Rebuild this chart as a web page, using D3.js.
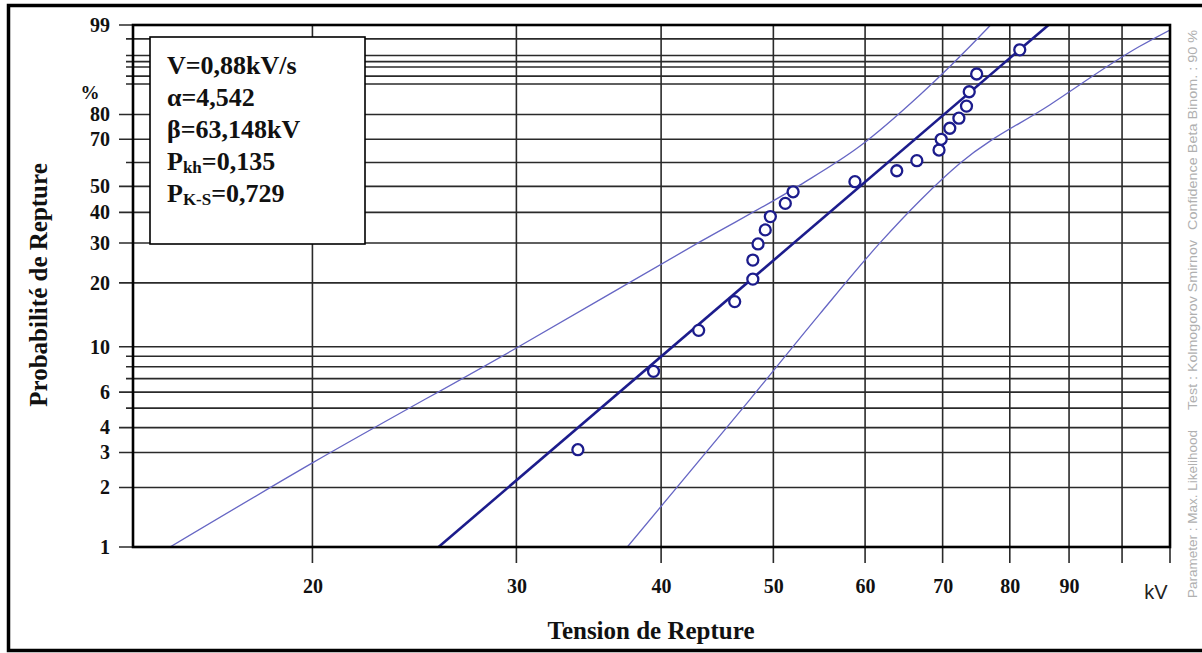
<!DOCTYPE html>
<html>
<head>
<meta charset="utf-8">
<script src="https://cdn.jsdelivr.net/npm/d3@7"></script>
<style>
  body { margin: 0; background: #fff; }
  svg { display: block; }
  .serif { font-family: "Liberation Serif", "Times New Roman", serif; font-weight: bold; }
</style>
</head>
<body>
<svg id="chart" width="1202" height="653"></svg>
<script>
// x grid / labels (kV), y grid / labels (%)
var xGrid = [20, 30, 40, 50, 60, 70, 80, 90, 100, 110];
var xLabels = [20, 30, 40, 50, 60, 70, 80, 90];
var yGrid = [1, 2, 3, 4, 5, 6, 7, 8, 9, 10, 20, 30, 40, 50, 60, 70, 80, 90, 92, 94, 95, 96, 98, 99];
var yLabels = [1, 2, 3, 4, 6, 10, 20, 30, 40, 50, 70, 80, 99];

// measured breakdown voltages and their plotted probabilities
var tension = [33.9, 39.4, 43.1, 46.3, 48.0, 48.0, 48.5, 49.2, 49.7, 51.2, 52.0,
               58.8, 63.9, 66.5, 69.5, 69.8, 71.0, 72.3, 73.4, 73.8, 74.9, 81.6];
var probabilite = [3.1, 7.6, 12.0, 16.4, 20.8, 25.3, 29.7, 34.0, 38.5, 43.3, 47.8,
                   51.9, 56.5, 60.8, 65.4, 70.0, 74.6, 78.6, 83.1, 87.8, 92.5, 96.8];

// fitted weibull line and 90% confidence bounds, [kV, %]
var fitLine = [[25.7, 1], [86.4, 99]];
var upperBand = [[15.07, 1], [20, 2.66], [30, 9.87], [43.2, 30.3], [52.7, 50.5], [59.4, 67.1], [66.9, 86.8], [76.5, 98.8], [77, 99]];
var lowerBand = [[37.4, 1], [47.7, 5.5], [54.8, 14.3], [61.8, 30], [67, 44.6], [72.5, 59.8], [86.6, 83.5], [103.5, 97.2], [110, 98.7]];

// info box lines: [text, subscript, rest]
var infoLines = [
  ["V=0,88kV/s", "", ""],
  ["\u03b1=4,542", "", ""],
  ["\u03b2=63,148kV", "", ""],
  ["P", "kh", "=0,135"],
  ["P", "K-S", "=0,729"]
];
var sideNotes = ["Parameter : Max. Likelihood", "Test : Kolmogorov Smirnov", "Confidence Beta Binom. : 90 %"];

var svg = d3.select("#chart");

var pLeft = 133, pRight = 1170, pTop = 25, pBottom = 547;
var blue = "#1c1c8c", bandBlue = "#6666c4";

var x = d3.scaleLog().domain([14, 110]).range([pLeft, pRight]);
// weibull probability paper: ln(-ln(1-p))
var weib = function(p) { return Math.log(-Math.log(1 - p / 100)); };
var yLin = d3.scaleLinear().domain([weib(1), weib(99)]).range([pBottom, pTop]);
var y = function(p) { return yLin(weib(p)); };

// OUTER FRAME
svg.append("path")
    .attr("d", "M1202,5.5 H8.5 V650.5 H1202")
    .style("fill", "none")
    .style("stroke", "#000")
    .style("stroke-width", 3.5);

// GRID
var grid = svg.append("g").attr("class", "grid");
grid.selectAll("line.h")
    .data(yGrid)
  .enter().append("line")
    .attr("class", "h")
    .attr("x1", d => yLabels.indexOf(d) >= 0 ? pLeft - 14 : pLeft - 7)
    .attr("x2", pRight)
    .attr("y1", d => y(d))
    .attr("y2", d => y(d))
    .style("stroke", "#2a2a2a")
    .style("stroke-width", 1.6);
grid.selectAll("line.v")
    .data(xGrid)
  .enter().append("line")
    .attr("class", "v")
    .attr("x1", d => x(d))
    .attr("x2", d => x(d))
    .attr("y1", pTop)
    .attr("y2", pBottom + 16)
    .style("stroke", "#2a2a2a")
    .style("stroke-width", 1.6);

// AXES (labels only, lines drawn above)
var xAxis = d3.axisBottom(x)
    .tickValues(xLabels)
    .tickSize(0)
    .tickPadding(32)
    .tickFormat(d3.format("d"));
var gx = svg.append("g")
    .attr("transform", "translate(0," + pBottom + ")")
    .call(xAxis);
gx.select(".domain").remove();
gx.selectAll("text")
    .attr("class", "serif")
    .style("font-size", "20px")
    .style("fill", "#111");

var yAxis = d3.axisLeft(yLin)
    .tickValues(yLabels.map(weib))
    .tickSize(0)
    .tickPadding(pLeft - 110)
    .tickFormat(function(d) { return Math.round(100 * (1 - Math.exp(-Math.exp(d)))); });
var gy = svg.append("g")
    .attr("transform", "translate(" + pLeft + ",0)")
    .call(yAxis);
gy.select(".domain").remove();
gy.selectAll("text")
    .attr("class", "serif")
    .style("font-size", "20px")
    .style("fill", "#111");

svg.append("text")
    .attr("class", "serif")
    .attr("x", 90)
    .attr("y", 99)
    .attr("text-anchor", "middle")
    .style("font-size", "19px")
    .style("fill", "#111")
    .text("%");

svg.append("text")
    .attr("x", 1156)
    .attr("y", 599)
    .attr("text-anchor", "middle")
    .style("font-family", "'Liberation Sans', Arial, sans-serif")
    .style("font-size", "20px")
    .style("fill", "#222")
    .text("kV");

// CLIP
svg.append("defs").append("clipPath")
    .attr("id", "plot-clip")
  .append("rect")
    .attr("x", pLeft)
    .attr("y", pTop)
    .attr("width", pRight - pLeft)
    .attr("height", pBottom - pTop);

var line = d3.line()
    .x(d => x(d[0]))
    .y(d => y(d[1]))
    .curve(d3.curveMonotoneX);

var plot = svg.append("g").attr("clip-path", "url(#plot-clip)");
plot.selectAll("path.band")
    .data([upperBand, lowerBand])
  .enter().append("path")
    .attr("class", "band")
    .attr("d", line)
    .style("fill", "none")
    .style("stroke", bandBlue)
    .style("stroke-width", 1.3);

plot.append("path")
    .datum(fitLine)
    .attr("d", line)
    .style("fill", "none")
    .style("stroke", blue)
    .style("stroke-width", 2.6);

// PLOT FRAME
svg.append("rect")
    .attr("x", pLeft)
    .attr("y", pTop)
    .attr("width", pRight - pLeft)
    .attr("height", pBottom - pTop)
    .style("fill", "none")
    .style("stroke", "#000")
    .style("stroke-width", 2.6);

// POINTS
svg.append("g").selectAll("circle")
    .data(d3.zip(tension, probabilite))
  .enter().append("circle")
    .attr("cx", d => x(d[0]))
    .attr("cy", d => y(d[1]))
    .attr("r", 5.5)
    .style("fill", "#fff")
    .style("stroke", blue)
    .style("stroke-width", 2.3);

// INFO BOX
svg.append("rect")
    .attr("x", 150)
    .attr("y", 37)
    .attr("width", 215)
    .attr("height", 207)
    .style("fill", "#fff")
    .style("stroke", "#000")
    .style("stroke-width", 1.6);

var info = svg.append("g").attr("class", "serif").style("fill", "#111");
info.selectAll("text")
    .data(infoLines)
  .enter().append("text")
    .attr("x", 167)
    .attr("y", (d, i) => 74 + i * 32)
    .style("font-size", "26px")
    .each(function(d) {
      var t = d3.select(this);
      t.append("tspan").text(d[0]);
      if (d[1]) {
        t.append("tspan").attr("dy", 3).style("font-size", "17px").text(d[1]);
        t.append("tspan").attr("dy", -3).text(d[2]);
      }
    });

// TITLES
svg.append("text")
    .attr("class", "serif")
    .attr("transform", "translate(47,285) rotate(-90)")
    .attr("text-anchor", "middle")
    .style("font-size", "25px")
    .style("fill", "#111")
    .text("Probabilité de Repture");

svg.append("text")
    .attr("class", "serif")
    .attr("x", 651)
    .attr("y", 639)
    .attr("text-anchor", "middle")
    .style("font-size", "25px")
    .style("fill", "#111")
    .text("Tension de Repture");

// SIDE NOTE (rotated, grey)
var noteStart = [598, 410, 230], noteLen = [168, 170, 200];
svg.append("g").selectAll("text")
    .data(sideNotes)
  .enter().append("text")
    .attr("transform", (d, i) => "translate(1197," + noteStart[i] + ") rotate(-90)")
    .attr("textLength", (d, i) => noteLen[i])
    .attr("lengthAdjust", "spacingAndGlyphs")
    .style("font-family", "'Liberation Sans', Arial, sans-serif")
    .style("font-size", "12px")
    .style("fill", "#b0b0b0")
    .text(d => d);
</script>
</body>
</html>
